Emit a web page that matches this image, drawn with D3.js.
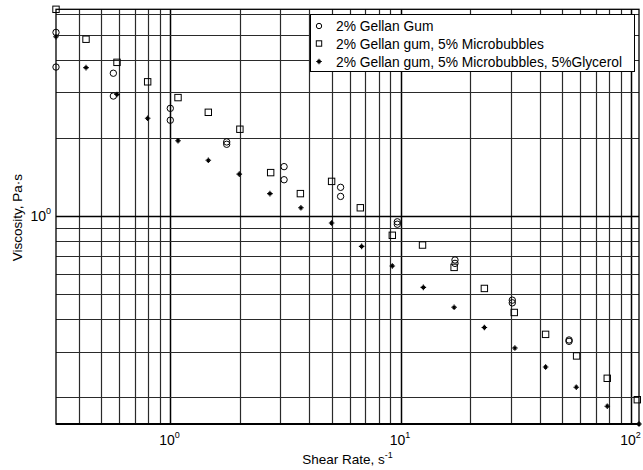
<!DOCTYPE html>
<html><head><meta charset="utf-8">
<script src="https://cdn.jsdelivr.net/npm/d3@7"></script>
<style>body{margin:0;background:#fff}svg{display:block;font-family:"Liberation Sans",Arial,sans-serif}</style>
</head><body><svg id="c" width="643" height="470"></svg>
<script>
// Series names
const seriesNames = ["2% Gellan Gum", "2% Gellan gum, 5% Microbubbles", "2% Gellan gum, 5% Microbubbles, 5%Glycerol"];
// Circles: 2% Gellan Gum
const gumX = [0.3186, 0.3186, 0.565, 0.565, 0.998, 0.998, 1.753, 1.753, 3.11, 3.11, 5.47, 5.47, 9.64, 9.64, 17.15, 17.15, 30.4, 30.4, 53.6, 53.6];
const gumY = [5.10, 3.75, 3.55, 2.90, 2.60, 2.34, 1.93, 1.89, 1.55, 1.38, 1.29, 1.19, 0.95, 0.93, 0.677, 0.657, 0.474, 0.463, 0.333, 0.329];
// Squares: 2% Gellan gum, 5% Microbubbles
const mbX = [0.3186, 0.43, 0.586, 0.796, 1.078, 1.459, 2.00, 2.72, 3.66, 5.00, 6.66, 9.17, 12.4, 17.0, 23.0, 31.0, 42.4, 57.8, 78.5, 106];
const mbY = [6.26, 4.80, 3.91, 3.29, 2.86, 2.51, 2.16, 1.47, 1.22, 1.36, 1.076, 0.843, 0.773, 0.634, 0.526, 0.425, 0.350, 0.289, 0.237, 0.196];
// Stars: 2% Gellan gum, 5% Microbubbles, 5%Glycerol
const glX = [0.3186, 0.43, 0.586, 0.796, 1.078, 1.459, 1.988, 2.70, 3.68, 5.00, 6.75, 9.17, 12.5, 17.0, 23.0, 31.2, 42.4, 57.6, 78.5, 107.8];
const glY = [4.91, 3.73, 2.94, 2.38, 1.95, 1.64, 1.45, 1.22, 1.076, 0.940, 0.764, 0.642, 0.531, 0.445, 0.372, 0.310, 0.262, 0.219, 0.185, 0.158];
// Axis
const xDomain = [0.3186, 107.8];
const yDomain = [0.158, 6.26];
const xMajorTicks = [1, 10, 100];
const yMajorTicks = [1];
const xLabel = "Shear Rate, s";
const yLabel = "Viscosity, Pa\u00B7s";

const svg = d3.select("#c");
const L = 56, R = 639, T = 9.3, B = 424;
const x = d3.scaleLog().domain(xDomain).range([L, R]);
const y = d3.scaleLog().domain(yDomain).range([B, T]);

function logGrid(dom) {
  const out = [];
  const lo = Math.floor(Math.log10(dom[0])), hi = Math.ceil(Math.log10(dom[1]));
  for (let e = lo; e <= hi; e++) for (let m = 1; m <= 9; m++) {
    const v = m * Math.pow(10, e);
    if (v >= dom[0] * 0.999 && v <= dom[1] * 1.001) out.push({v, major: m === 1});
  }
  return out;
}
const g = svg.append("g");
g.selectAll("line.vx").data(logGrid(xDomain)).join("line")
  .attr("x1", d => Math.round(x(d.v)) + 0.5).attr("x2", d => Math.round(x(d.v)) + 0.5)
  .attr("y1", T).attr("y2", B)
  .attr("stroke", d => d.major ? "#000" : "#2a2a2a").attr("stroke-width", d => d.major ? 1.5 : 1.2);
g.selectAll("line.hy").data(logGrid(yDomain)).join("line")
  .attr("y1", d => Math.round(y(d.v)) + 0.5).attr("y2", d => Math.round(y(d.v)) + 0.5)
  .attr("x1", L).attr("x2", R)
  .attr("stroke", d => d.major ? "#000" : "#2a2a2a").attr("stroke-width", d => d.major ? 1.5 : 1.2);

// frame
svg.append("rect").attr("x", L).attr("y", T).attr("width", R - L).attr("height", B - T)
  .attr("fill", "none").attr("stroke", "#000").attr("stroke-width", 1.3);
svg.append("line").attr("x1", L).attr("x2", R).attr("y1", B).attr("y2", B).attr("stroke", "#000").attr("stroke-width", 2);

// tick labels
function pow10Label(sel, e) {
  sel.append("tspan").text("10");
  sel.append("tspan").attr("dy", -7).attr("font-size", 9).text(e);
}
xMajorTicks.forEach(v => {
  const t = svg.append("text").attr("x", x(v) - 1).attr("y", 445).attr("font-size", 14).attr("text-anchor", "middle");
  pow10Label(t, Math.round(Math.log10(v)));
});
yMajorTicks.forEach(v => {
  const t = svg.append("text").attr("x", 51).attr("y", y(v) + 5).attr("font-size", 14).attr("text-anchor", "end");
  pow10Label(t, Math.round(Math.log10(v)));
});

// axis labels
const xl = svg.append("text").attr("x", (L + R) / 2).attr("y", 464).attr("font-size", 13.5).attr("text-anchor", "middle");
xl.append("tspan").text(xLabel);
xl.append("tspan").attr("dy", -6).attr("font-size", 9).text("-1");
svg.append("text").attr("transform", `translate(22,${(T + B) / 2 + 1}) rotate(-90)`)
  .attr("font-size", 13.5).attr("text-anchor", "middle").text(yLabel);

// markers
const starPath = "M-2.8,0H2.8M0,-2.8V2.8M-1.5,-1.5L1.5,1.5M-1.5,1.5L1.5,-1.5";
function drawCircle(sel, cx, cy) { sel.append("circle").attr("cx", cx).attr("cy", cy).attr("r", 3.2).attr("fill", "none").attr("stroke", "#000").attr("stroke-width", 1); }
function drawSquare(sel, cx, cy) { sel.append("rect").attr("x", cx - 3.2).attr("y", cy - 3.2).attr("width", 6.4).attr("height", 6.4).attr("fill", "none").attr("stroke", "#000").attr("stroke-width", 1); }
function drawStar(sel, cx, cy) { sel.append("path").attr("transform", `translate(${cx},${cy})`).attr("d", starPath).attr("stroke", "#000").attr("stroke-width", 1.1); }

const pts = svg.append("g");
gumX.forEach((v, i) => drawCircle(pts, x(v), y(gumY[i])));
mbX.forEach((v, i) => drawSquare(pts, x(v), y(mbY[i])));
glX.forEach((v, i) => drawStar(pts, x(v), y(glY[i])));

// legend
const lg = svg.append("g");
lg.append("rect").attr("x", 310.5).attr("y", 14.5).attr("width", 324).attr("height", 57)
  .attr("fill", "#fff").attr("stroke", "#000").attr("stroke-width", 1);
const rowsY = [26, 43.5, 61.5];
seriesNames.forEach((n, i) => {
  if (i === 0) lg.append("circle").attr("cx", 319).attr("cy", rowsY[i]).attr("r", 2.7).attr("fill", "none").attr("stroke", "#000");
  else if (i === 1) lg.append("rect").attr("x", 316.3).attr("y", rowsY[i] - 2.7).attr("width", 5.4).attr("height", 5.4).attr("fill", "none").attr("stroke", "#000");
  else drawStar(lg, 319, rowsY[i]);
  lg.append("text").attr("x", 336).attr("y", rowsY[i] + 5).attr("font-size", 13.8).text(n);
});
</script></body></html>
